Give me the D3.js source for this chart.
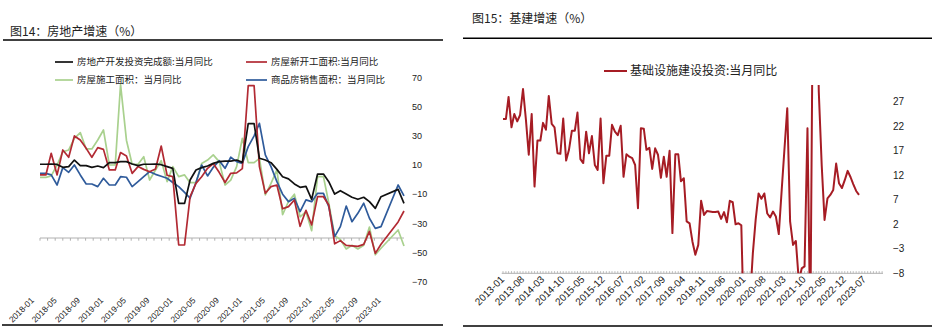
<!DOCTYPE html>
<html><head><meta charset="utf-8">
<script src="https://cdn.jsdelivr.net/npm/d3@7"></script>
<style>
html,body{margin:0;padding:0;background:#fff;}
svg{display:block;}
text{font-family:"Liberation Sans",Arial,sans-serif;fill:#222;}
.cjk{font-family:"Noto Sans CJK SC","Noto Sans",sans-serif;}
</style></head><body>
<svg id="c" width="932" height="334"></svg>
<script>
// ---------------- data ----------------
const leftTitle = "图14：房地产增速（%）";
const rightTitle = "图15：基建增速（%）";

const leftSeriesNames = ["房地产开发投资完成额:当月同比","房屋新开工面积:当月同比","房屋施工面积：当月同比","商品房销售面积：当月同比"];
const leftTickLabels = ["2018-01","2018-05","2018-09","2019-01","2019-05","2019-09","2020-01","2020-05","2020-09","2021-01","2021-05","2021-09","2022-01","2022-05","2022-09","2023-01"];
const leftYTicks = [70,50,30,10,-10,-30,-50,-70];

// monthly, 2018-01 .. 2023-04 (null = no value)
const investYoY = [10.5,10.5,10.7,10.4,8.4,8.9,13.4,9.6,9.6,8.4,9.3,8.2,
 11.6,11.6,12.3,12.3,10.7,9.6,10.5,10.5,10.7,10.2,8.9,7.7,
 -16.3,-16.3,-0.3,6.6,8.2,9.3,11.1,12.3,12.7,12.7,13.4,11.8,
 38.3,38.3,14.6,13.4,11.6,7,2,0.5,-3,-5.3,-4.6,-13.5,
 3.8,3.8,-1.4,-9.9,-7.6,-9.9,-12.1,-13.5,-12.1,-15.1,-19.7,-11.7,
 null,null,-6.7,-16.3];
const newStartYoY = [3.2,3.2,18,3.2,20.3,15.3,29.9,27.1,21.4,15.3,21.9,20.7,
 6.6,6.6,18.5,16.2,4.3,8.9,7,5.4,7.3,23,3,2,
 -44.8,-44.8,-11.7,-2.6,2,7.7,11,5,-2,4.3,4.6,7.5,
 64.3,64.3,8.9,-9.4,-4.8,-3.7,-20,-18.5,-14,-32,-21,-31,
 -11.7,-11.7,-17.4,-44,-41.8,-45.1,-45.4,-45.7,-44.4,-35.5,-50.5,-44.3,
 null,null,-29,-21.5];
const constructionYoY = [1.5,1.5,2.5,10,19.1,20.3,28.3,32.2,21,21,27.1,34,
 10,10,65,27,10.5,10.5,15.7,-0.3,6.6,13,-1.4,8.9,
 2,3.2,-2.1,-2.1,11.1,13.4,16.9,12.3,-3.7,-0.3,8.9,28.3,
 11.6,11.6,14.6,-10.5,-2.6,6.6,-24,-15,-10,-25.5,-22,-35,
 2,2,-16,-38.5,-41,-47.5,-45,-47.5,-45,-32.5,-51.5,-47,
 null,null,-34.5,-45.5];
const salesYoY = [4.3,4.3,3.2,-3.7,8.2,5,10,3.2,-3,-3,-4.8,0.9,
 -3.7,-3.7,2,1.6,-4.8,-1.4,2,5.4,3.6,2.3,0.9,-2,
 -4.8,-8.8,-12.8,-2,10,2.5,8.4,13,7.7,15.3,12.3,11.1,
 22.6,30,38.5,16.9,8.9,-1.4,-10,-15.1,-12.8,-21.9,-13.9,-15.1,
 -9.4,-9.4,-18.5,-39.1,-32.2,-18.1,-28.8,-23.1,-16.2,-26.5,-33.4,-32.2,
 null,null,-3.7,-11.2];
const leftColors = ["#111111","#b22a33","#a9d18e","#2f5b9b"];

const rightSeriesName = "基础设施建设投资:当月同比";
const rightTickLabels = ["2013-01","2013-08","2014-03","2014-10","2015-05","2015-12","2016-07","2017-02","2017-09","2018-04","2018-11","2019-06","2020-01","2020-08","2021-03","2021-10","2022-05","2022-12","2023-07"];
const rightYTicks = [27,22,17,12,7,2,-3,-8];
// monthly, 2013-01 .. 2023-05
const infraYoY = [
 23.5,23.5,28,21.8,24.5,23,24.3,29.6,23.3,16.2,24.5,9.7,
 19.1,19.1,22.7,21.3,28.2,22.5,21.8,16.5,16.4,23.6,15,17.2,
 21.1,21.1,24.8,15.3,14.5,20.9,16.5,20,14.1,13.1,23.6,10.4,
 16,16,22.3,20.9,20.2,22.1,11.7,16.3,15.8,15.5,14.1,5.3,
 21.6,21.5,17.2,17.6,13.3,17.5,16.2,11.5,15.8,11.7,17,0.2,
 16.3,16.3,10.8,11.4,2.6,2.2,-1.5,-4.2,-2.2,6.8,3.9,4.7,
 4.6,4.5,4.5,4.6,3.1,4.5,2.4,6.8,6.5,2,2.2,1.8,
 -22,-22,-14,-4,2.9,8.3,7.2,8.3,4.2,3.4,4.6,3.6,
 0,9,17,25.7,2.6,-2.2,-1.4,-9.5,-7,-6.6,21.6,-20,
 60,60,29,14,2.9,7.3,8,9,14.4,10.4,9.4,11,
 12.9,11.6,10.2,8.8,8];
const rightColor = "#a61c24";

// ---------------- drawing ----------------
const svg = d3.select("#c");
const parse = d3.timeParse("%Y-%m");
const fmtNum = v => (v < 0 ? "\u2212" + Math.abs(v) : String(v));

// frame lines & titles
svg.append("text").attr("class","cjk").attr("x",10).attr("y",36).attr("font-size",12).attr("fill","#111").text(leftTitle);
svg.append("line").attr("x1",3).attr("x2",443).attr("y1",40).attr("y2",40).attr("stroke","#000").attr("stroke-width",1.4);
svg.append("line").attr("x1",2).attr("x2",443).attr("y1",325).attr("y2",325).attr("stroke","#000").attr("stroke-width",1.4);

svg.append("text").attr("class","cjk").attr("x",472).attr("y",23).attr("font-size",12).attr("fill","#111").text(rightTitle);
svg.append("line").attr("x1",463).attr("x2",932).attr("y1",38.3).attr("y2",38.3).attr("stroke","#000").attr("stroke-width",1.4);
svg.append("line").attr("x1",463).attr("x2",932).attr("y1",326).attr("y2",326).attr("stroke","#000").attr("stroke-width",1.4);

// ===== LEFT CHART =====
const lMonths = d3.timeMonth.range(parse("2018-01"), parse("2023-05"));
const xL = d3.scaleTime().domain([parse("2018-01"), parse("2023-04")]).range([40, 404]);
const yL = d3.scaleLinear().domain([-70, 70]).range([281.8, 77.4]);
const gL = svg.append("g");

// axis line at -40
const axY = yL(-40);
gL.append("line").attr("x1",xL(parse("2018-01"))).attr("x2",xL(parse("2023-04"))).attr("y1",axY).attr("y2",axY).attr("stroke","#b0b0b0").attr("stroke-width",1);
const step = (xL(parse("2018-05")) - xL(parse("2018-01"))) / 3;
for (let x = xL(parse("2018-01")); x <= xL(parse("2023-04")) + 0.5; x += step) {
  gL.append("line").attr("x1",x).attr("x2",x).attr("y1",axY).attr("y2",axY+2.7).attr("stroke","#b0b0b0").attr("stroke-width",1);
}
// x labels
leftTickLabels.forEach(s => {
  const x = xL(parse(s)) - 5.5, y = 301;
  gL.append("text").attr("transform",`translate(${x},${y}) rotate(-45)`).attr("text-anchor","end")
    .attr("font-size",8.5).text(s);
});
// y labels
leftYTicks.forEach(v => {
  gL.append("text").attr("x",412).attr("y",yL(v)).attr("dy","0.35em").attr("font-size",9).text(fmtNum(v));
});
// lines
const leftData = [investYoY, newStartYoY, constructionYoY, salesYoY];
const lineL = d3.line().x(d => xL(d.date)).y(d => yL(d.v));
[2,3,1,0].forEach(k => {
  const pts = lMonths.map((d,i) => ({date:d, v:leftData[k][i]})).filter(p => p.v !== null && p.v !== undefined);
  gL.append("path").datum(pts).attr("d",lineL).attr("fill","none").attr("stroke",leftColors[k])
    .attr("stroke-width",1.7).attr("stroke-linejoin","round");
});
// legend
const legPos = [[55,62],[246,62],[55,80],[246,80]];
leftSeriesNames.forEach((n,k) => {
  const [lx,ly] = legPos[k];
  const len = k % 2 === 0 ? 18 : 21;
  gL.append("line").attr("x1",lx).attr("x2",lx+len).attr("y1",ly).attr("y2",ly).attr("stroke",leftColors[k]).attr("stroke-width",1.7);
  gL.append("text").attr("class","cjk").attr("x",lx+len+4).attr("y",ly).attr("dy","0.36em").attr("font-size",9.5).text(n);
});

// ===== RIGHT CHART =====
const rMonths = d3.timeMonth.range(parse("2013-01"), parse("2023-06"));
const xR = d3.scaleTime().domain([parse("2013-01"), parse("2023-05")]).range([503, 859]);
const yR = d3.scaleLinear().domain([-8, 27]).range([273.3, 101.8]);
const gR = svg.append("g");
const rAxisEnd = 883;
gR.append("line").attr("x1",xR(parse("2013-01"))-1.3).attr("x2",rAxisEnd).attr("y1",yR(-8)).attr("y2",yR(-8)).attr("stroke","#b0b0b0").attr("stroke-width",1);
d3.timeMonth.range(parse("2013-01"), parse("2024-06")).forEach(d => {
  const x = xR(d);
  if (x <= rAxisEnd) gR.append("line").attr("x1",x).attr("x2",x).attr("y1",yR(-8)).attr("y2",yR(-8)-2.2).attr("stroke","#b0b0b0").attr("stroke-width",0.8);
});
rightTickLabels.forEach(s => {
  const x = xR(parse(s)) + 2, y = 280;
  gR.append("text").attr("transform",`translate(${x},${y}) rotate(-45)`).attr("text-anchor","end")
    .attr("font-size",10).text(s);
});
rightYTicks.forEach(v => {
  gR.append("text").attr("x",893).attr("y",yR(v)).attr("dy","0.35em").attr("font-size",10).text(fmtNum(v));
});
svg.append("defs").append("clipPath").attr("id","clipR").append("rect")
  .attr("x",498).attr("y",85).attr("width",390).attr("height",yR(-8)-85);
const lineR = d3.line().x(d => xR(d.date)).y(d => yR(d.v));
const rPts = rMonths.map((d,i) => ({date:d, v:infraYoY[i]})).filter(p => p.v !== null && p.v !== undefined);
gR.append("path").datum(rPts).attr("clip-path","url(#clipR)").attr("d",lineR).attr("fill","none")
  .attr("stroke",rightColor).attr("stroke-width",2).attr("stroke-linejoin","round");
// legend
gR.append("line").attr("x1",604).attr("x2",627).attr("y1",71).attr("y2",71).attr("stroke",rightColor).attr("stroke-width",2);
gR.append("text").attr("class","cjk").attr("x",630).attr("y",71).attr("dy","0.36em").attr("font-size",12).text(rightSeriesName);
</script>
</body></html>
